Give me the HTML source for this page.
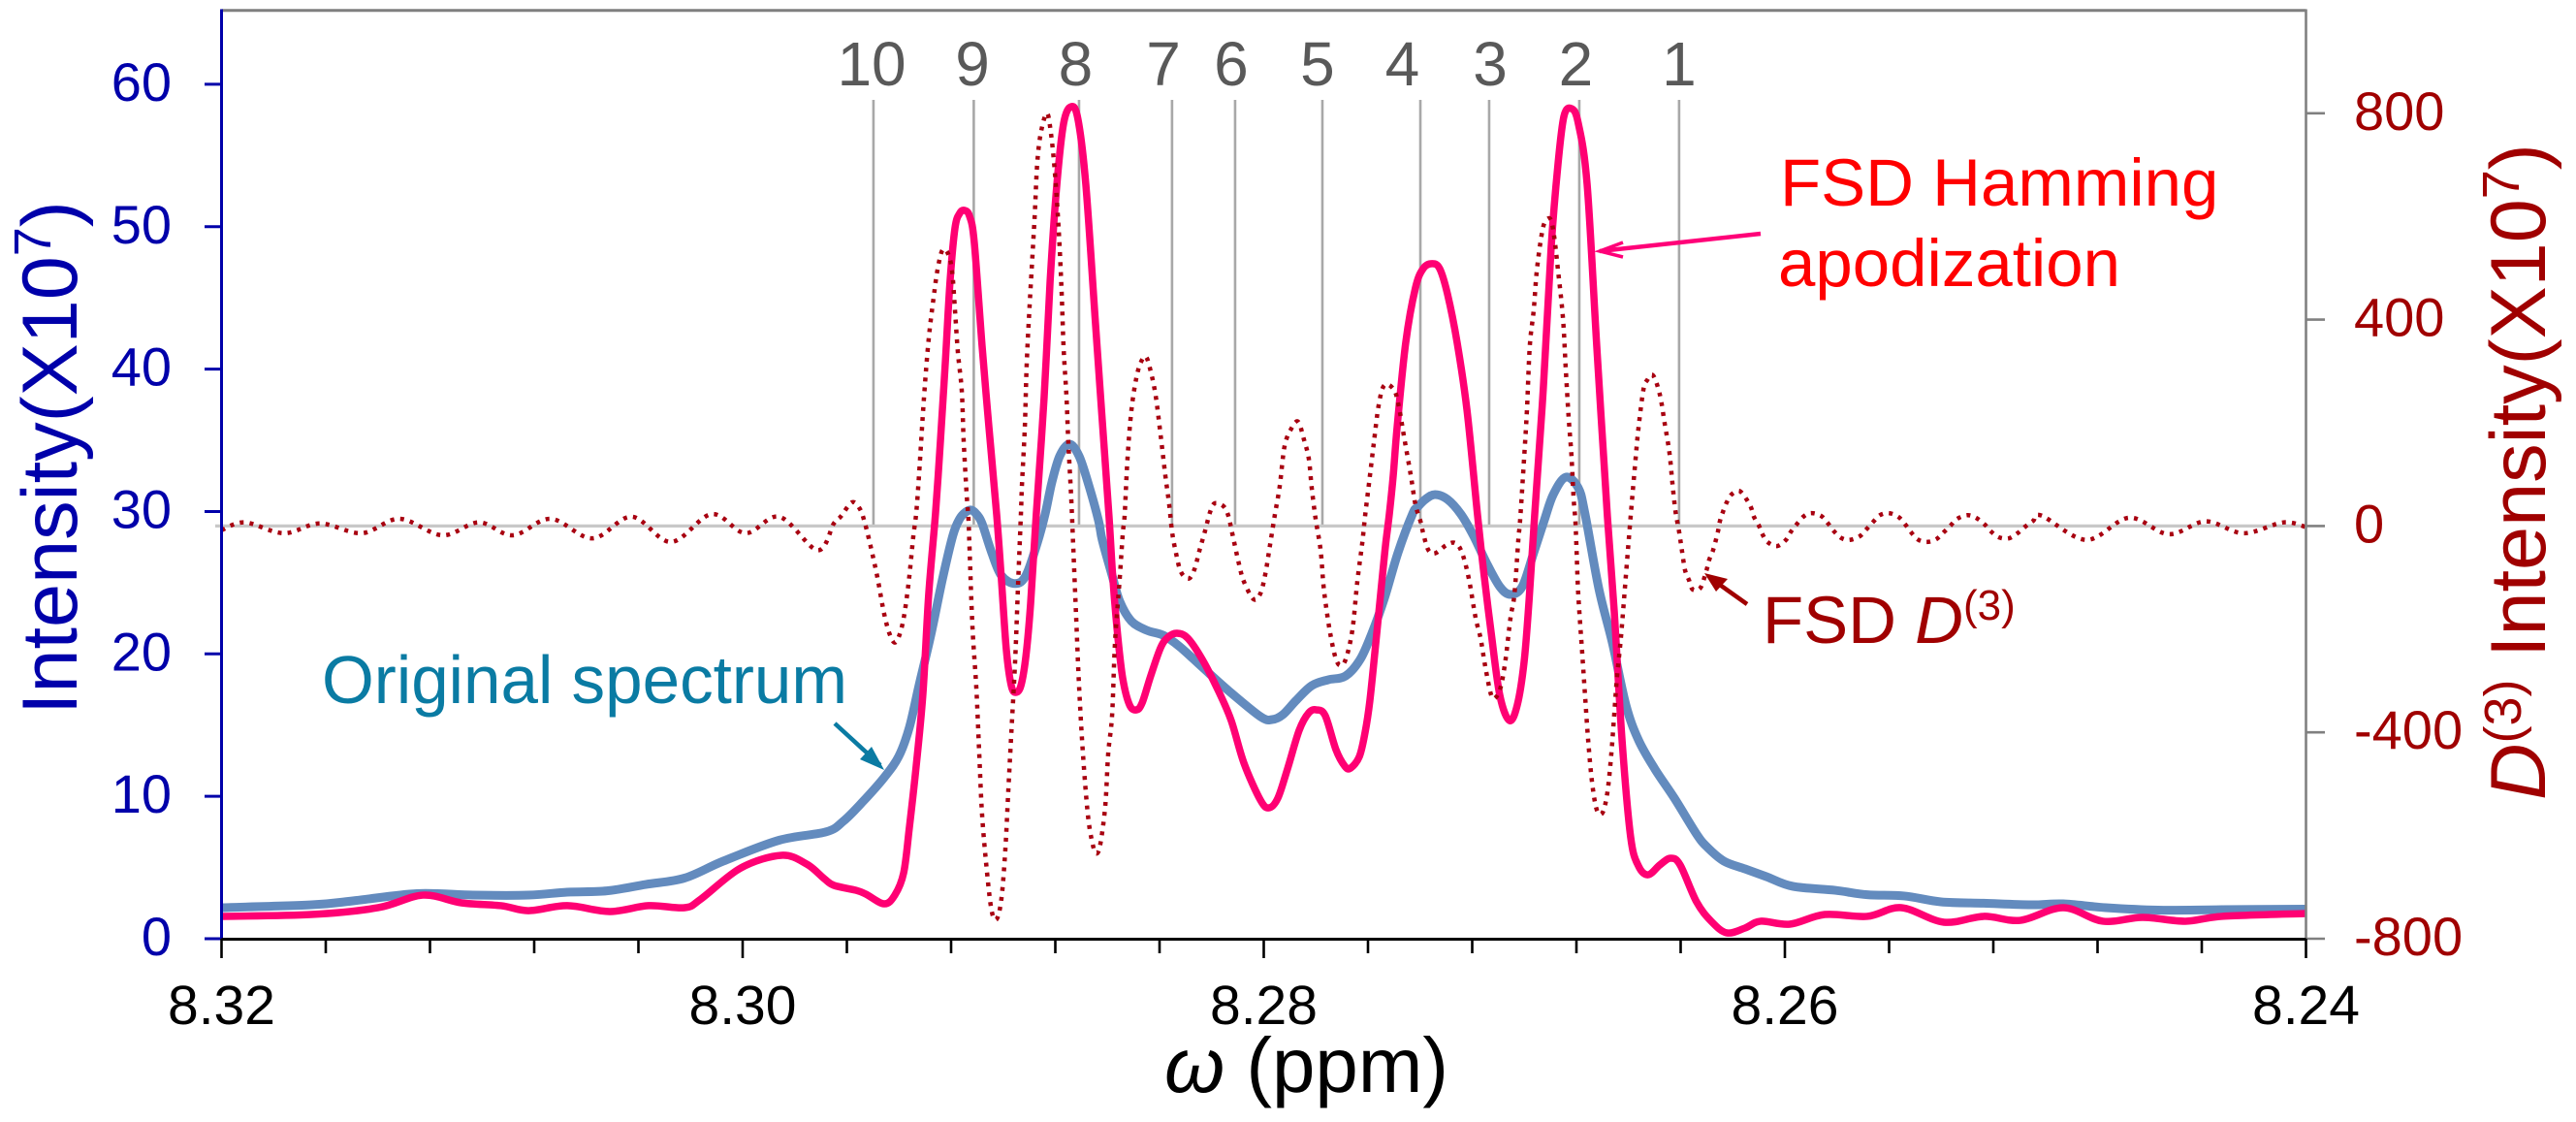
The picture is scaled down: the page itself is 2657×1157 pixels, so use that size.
<!DOCTYPE html>
<html lang="en">
<head>
<meta charset="utf-8">
<title>FSD spectrum chart</title>
<style>
  html, body { margin: 0; padding: 0; background: #fff; }
  svg { display: block; font-family: "Liberation Sans", Arial, sans-serif; }
</style>
</head>
<body>
<svg id="chart" xmlns="http://www.w3.org/2000/svg" width="2657" height="1157" viewBox="0 0 2657 1157">
  <rect x="0" y="0" width="2657" height="1157" fill="#ffffff"/>
  <g id="guides"></g>
  <g id="curves"></g>
  <g id="axes"></g>

  <text transform="translate(79 737) rotate(-90)" font-size="81" fill="#0000AA">Intensity(X10<tspan font-size="54" dy="-27">7</tspan><tspan dy="27">)</tspan></text>
  <text transform="translate(2625 825) rotate(-90)" font-size="81" fill="#A00000"><tspan font-style="italic">D</tspan><tspan font-size="54" dy="-25">(3)</tspan><tspan dy="25"> Intensity(X10</tspan><tspan font-size="54" dy="-27">7</tspan><tspan dy="27">)</tspan></text>
  <text x="1201" y="1126" font-size="80" fill="#000000" textLength="293" lengthAdjust="spacingAndGlyphs"><tspan font-style="italic">ω</tspan> (ppm)</text>

  <text x="1836" y="212" font-size="69" fill="#FF0000">FSD Hamming</text>
  <text x="1834" y="295" font-size="69" fill="#FF0000">apodization</text>
  <g fill="none" stroke="#FF0078" stroke-width="4.5">
    <path d="M1816 241 L1650 259"/>
    <path d="M1674 250 L1650 259 L1674 265" stroke-width="3.5"/>
  </g>

  <text x="332" y="725" font-size="70" fill="#0A7BA3" textLength="542" lengthAdjust="spacingAndGlyphs">Original spectrum</text>
  <g>
    <path d="M861 746 L908 789" fill="none" stroke="#0A7BA3" stroke-width="4.5"/>
    <path d="M912 794 L887 783 L899 770 Z" fill="#0A7BA3"/>
  </g>

  <text x="1818" y="663" font-size="69" fill="#A00000">FSD <tspan font-style="italic">D</tspan><tspan font-size="44" dy="-24">(3)</tspan></text>
  <g>
    <path d="M1802 623 L1764 596" fill="none" stroke="#A00000" stroke-width="4.5"/>
    <path d="M1758 591 L1782 597 L1770 610 Z" fill="#A00000"/>
  </g>
</svg>

<script>
// ---- Axis ranges ----
const xTicks = [8.32, 8.30, 8.28, 8.26, 8.24];
const xMinorTicks = [8.316, 8.312, 8.308, 8.304, 8.296, 8.292, 8.288, 8.284, 8.276, 8.272, 8.268, 8.264, 8.256, 8.252, 8.248, 8.244];
const leftTicks = [0, 10, 20, 30, 40, 50, 60];
const rightTicks = [-800, -400, 0, 400, 800];

// ---- Peak guides ----
const peakLabels = ["10", "9", "8", "7", "6", "5", "4", "3", "2", "1"];
const peakPpm = [8.29498, 8.29113, 8.28709, 8.28352, 8.28110, 8.27775, 8.27399, 8.27135, 8.26789, 8.26406];
const peakLabelPpm = [8.29505, 8.29118, 8.28722, 8.28385, 8.28125, 8.27794, 8.27468, 8.27131, 8.26802, 8.26406];

// ---- Original spectrum ----
const originalPpm = [8.32000,8.31654,8.31485,8.31250,8.31034,8.30822,8.30673,8.30521,8.30372,8.30223,8.30074,8.29859,8.29680,8.29613,8.29539,8.29457,8.29401,8.29360,8.29323,8.29278,8.29233,8.29193,8.29167,8.29144,8.29122,8.29100,8.29081,8.29044,8.29007,8.28954,8.28913,8.28869,8.28839,8.28813,8.28783,8.28746,8.28709,8.28672,8.28634,8.28620,8.28582,8.28553,8.28508,8.28448,8.28385,8.28322,8.28236,8.28136,8.28013,8.27968,8.27927,8.27875,8.27816,8.27753,8.27686,8.27630,8.27585,8.27537,8.27485,8.27429,8.27410,8.27380,8.27343,8.27295,8.27243,8.27194,8.27146,8.27094,8.27053,8.27008,8.26964,8.26923,8.26889,8.26841,8.26793,8.26767,8.26714,8.26662,8.26610,8.26562,8.26499,8.26424,8.26339,8.26298,8.26234,8.26153,8.26071,8.25970,8.25807,8.25684,8.25542,8.25401,8.25237,8.25055,8.24932,8.24768,8.24567,8.24322,8.24000];
const originalIntensity = [2.18,2.38,2.68,3.17,3.06,3.06,3.27,3.36,3.81,4.26,5.45,6.92,7.5,8.26,9.62,11.32,12.8,14.85,17.8,21.3,25.26,28.33,29.49,29.96,30.10,29.76,29.15,27.1,25.5,24.94,25.5,27.8,29.83,32.07,33.9,34.73,33.9,31.87,29.35,28.0,25.5,23.7,22.3,21.65,21.3,20.5,19.07,17.43,15.6,15.39,15.73,16.75,17.77,18.18,18.45,19.61,21.45,23.9,27.1,29.83,30.3,30.85,31.19,30.85,29.8,28.26,26.42,24.72,24.17,24.72,27.1,29.4,31.19,32.41,31.66,29.83,24.58,20.77,16.41,13.96,11.92,9.87,7.35,6.43,5.45,4.9,4.36,3.68,3.4,3.09,3.0,2.59,2.49,2.38,2.45,2.18,2.01,2.04,2.08];

// ---- FSD Hamming apodization ----
const hammingPpm = [8.32000,8.31656,8.31399,8.31228,8.31079,8.30927,8.30822,8.30673,8.30510,8.30361,8.30223,8.30160,8.30007,8.29851,8.29754,8.29687,8.29650,8.29565,8.29527,8.29457,8.29416,8.29382,8.29360,8.29334,8.29308,8.29286,8.29260,8.29241,8.29222,8.29204,8.29185,8.29167,8.29148,8.29129,8.29111,8.29081,8.29055,8.29025,8.29007,8.28988,8.28969,8.28951,8.28932,8.28913,8.28895,8.28873,8.28843,8.28820,8.28794,8.28768,8.28739,8.28713,8.28683,8.28646,8.28620,8.28594,8.28579,8.28560,8.28541,8.28515,8.28489,8.28467,8.28434,8.28396,8.28367,8.28333,8.28292,8.28236,8.28173,8.28125,8.28076,8.28013,8.27980,8.27946,8.27909,8.27864,8.27827,8.27797,8.27764,8.27723,8.27689,8.27667,8.27633,8.27611,8.27593,8.27570,8.27548,8.27533,8.27518,8.27503,8.27488,8.27455,8.27418,8.27388,8.27354,8.27325,8.27295,8.27258,8.27220,8.27180,8.27157,8.27127,8.27094,8.27057,8.27027,8.27001,8.26982,8.26960,8.26927,8.26897,8.26871,8.26848,8.26819,8.26793,8.26759,8.26722,8.26681,8.26655,8.26625,8.26592,8.26562,8.26525,8.26480,8.26439,8.26402,8.26339,8.26283,8.26223,8.26153,8.26093,8.25981,8.25847,8.25684,8.25553,8.25390,8.25237,8.25096,8.24932,8.24780,8.24627,8.24463,8.24322,8.24000];
const hammingIntensity = [1.57,1.70,2.18,3.06,2.52,2.32,1.97,2.32,1.91,2.32,2.18,2.79,4.97,5.86,5.24,4.22,3.75,3.40,3.13,2.45,3.06,4.63,7.83,12.12,17.23,24.17,29.83,34.93,40.52,46.17,49.91,50.94,51.14,50.73,48.89,41.61,35.96,29.76,25.26,20.29,17.77,17.30,17.77,19.82,23.49,29.83,38.00,46.17,52.98,57.27,58.43,57.54,52.98,43.24,36.43,29.69,25.26,21.18,18.25,16.41,16.07,16.55,18.45,20.43,21.18,21.45,21.11,19.61,17.36,15.32,12.33,9.74,9.19,9.87,11.92,14.64,15.87,16.07,15.66,13.28,12.12,11.98,12.80,14.50,16.68,20.77,24.86,27.58,29.83,32.55,35.96,41.88,45.69,47.06,47.40,47.06,45.28,41.88,37.11,29.83,25.94,21.45,17.09,15.32,16.41,19.41,23.70,29.83,38.68,48.55,54.34,57.75,58.29,57.27,52.98,41.61,29.62,23.02,13.96,7.15,5.11,4.49,5.18,5.65,5.18,2.59,1.23,0.41,0.75,1.23,1.02,1.70,1.57,2.18,1.16,1.57,1.29,2.18,1.23,1.50,1.23,1.57,1.77];

// ---- FSD D(3) ----
const d3Ppm = [8.32000,8.31910,8.31761,8.31622,8.31462,8.31317,8.31153,8.31012,8.30882,8.30737,8.30577,8.30426,8.30275,8.30119,8.29989,8.29859,8.29713,8.29650,8.29624,8.29580,8.29550,8.29531,8.29509,8.29483,8.29457,8.29434,8.29412,8.29386,8.29364,8.29345,8.29334,8.29323,8.29304,8.29286,8.29267,8.29252,8.29233,8.29211,8.29196,8.29185,8.29174,8.29159,8.29152,8.29141,8.29133,8.29129,8.29118,8.29103,8.29092,8.29081,8.29062,8.29044,8.29025,8.29007,8.28992,8.28980,8.28969,8.28954,8.28943,8.28932,8.28928,8.28917,8.28910,8.28899,8.28880,8.28869,8.28854,8.28832,8.28817,8.28802,8.28787,8.28776,8.28768,8.28757,8.28750,8.28739,8.28731,8.28720,8.28709,8.28694,8.28675,8.28657,8.28642,8.28627,8.28608,8.28597,8.28582,8.28571,8.28553,8.28541,8.28534,8.28523,8.28508,8.28489,8.28471,8.28452,8.28434,8.28415,8.28396,8.28378,8.28363,8.28352,8.28337,8.28318,8.28288,8.28266,8.28247,8.28225,8.28206,8.28188,8.28154,8.28136,8.28121,8.28095,8.28076,8.28039,8.28013,8.27994,8.27976,8.27957,8.27939,8.27920,8.27894,8.27868,8.27846,8.27827,8.27816,8.27801,8.27782,8.27771,8.27760,8.27745,8.27726,8.27708,8.27686,8.27660,8.27641,8.27622,8.27611,8.27596,8.27578,8.27559,8.27537,8.27500,8.27481,8.27462,8.27436,8.27418,8.27399,8.27388,8.27369,8.27343,8.27299,8.27265,8.27239,8.27213,8.27187,8.27168,8.27150,8.27127,8.27109,8.27090,8.27072,8.27053,8.27038,8.27023,8.27016,8.27001,8.26990,8.26979,8.26964,8.26953,8.26938,8.26923,8.26900,8.26886,8.26871,8.26852,8.26841,8.26830,8.26819,8.26811,8.26804,8.26800,8.26793,8.26778,8.26767,8.26755,8.26740,8.26722,8.26700,8.26681,8.26666,8.26655,8.26644,8.26629,8.26610,8.26592,8.26573,8.26562,8.26543,8.26528,8.26506,8.26480,8.26461,8.26443,8.26432,8.26420,8.26406,8.26395,8.26383,8.26368,8.26354,8.26324,8.26301,8.26290,8.26275,8.26257,8.26249,8.26238,8.26223,8.26205,8.26175,8.26149,8.26130,8.26119,8.26100,8.26086,8.26067,8.26030,8.25996,8.25978,8.25955,8.25929,8.25900,8.25862,8.25836,8.25810,8.25781,8.25751,8.25713,8.25688,8.25661,8.25635,8.25602,8.25565,8.25538,8.25516,8.25490,8.25457,8.25420,8.25390,8.25364,8.25338,8.25300,8.25267,8.25233,8.25208,8.25178,8.25141,8.25107,8.25077,8.25047,8.25014,8.24843,8.24679,8.24527,8.24385,8.24240,8.24087,8.24000];
const d3Intensity = [-8,7,-14,5,-14,14,-18,7,-18,14,-24,18,-31,23,-14,18,-47,5,18,46,33,6,-39,-99,-170,-212,-225,-189,-114,-20,24,99,249,362,443,497,535,527,493,418,337,262,168,67,10,-46,-196,-315,-441,-560,-672,-747,-762,-723,-629,-509,-403,-259,-114,24,80,192,311,424,593,706,766,800,762,687,574,456,343,249,161,55,-42,-177,-309,-441,-560,-616,-635,-616,-541,-441,-366,-227,-103,-14,20,130,224,287,318,328,300,253,177,99,42,-11,-52,-89,-102,-84,-48,-9,27,44,38,20,-14,-74,-108,-142,-131,-93,-37,23,76,155,189,202,168,130,74,14,-46,-114,-159,-208,-253,-270,-259,-202,-108,-33,20,83,159,234,273,264,230,174,99,42,10,-14,-46,-53,-37,-33,-52,-102,-178,-217,-272,-328,-332,-311,-259,-178,-133,-27,12,130,224,349,418,490,550,587,595,563,497,405,305,211,136,55,10,-39,-132,-245,-328,-415,-497,-550,-556,-516,-441,-366,-291,-215,-95,18,130,189,264,283,292,255,198,142,85,29,-11,-48,-86,-105,-123,-120,-86,-65,-46,-11,10,27,46,61,68,53,36,18,1,-16,-31,-39,-27,-12,3,18,25,20,6,-11,-24,-27,-20,-7,8,21,25,18,3,-12,-26,-31,-26,-12,1,14,21,16,3,-11,-22,-24,-14,-1,10,20,-27,16,-16,9,-14,7,-2];

// ---- Axis functions ----
function xScale(ppm) { return 228.5 + (8.32 - ppm) / 0.08 * 2150; }
function yLeft(value) { return 968 - value * 14.685; }
function yRight(value) { return 542.4 - value * 0.532; }

const SVGNS = "http://www.w3.org/2000/svg";
function el(parent, tag, props, text) {
  const node = document.createElementNS(SVGNS, tag);
  for (const key in props) node.setAttribute(key, props[key]);
  if (text !== undefined) node.textContent = text;
  parent.appendChild(node);
  return node;
}
function splinePath(xs, ys, fx, fy) {
  const pts = xs.map(function (x, i) { return [fx(x), fy(ys[i])]; });
  let d = "M" + pts[0][0].toFixed(2) + " " + pts[0][1].toFixed(2);
  for (let i = 0; i < pts.length - 1; i++) {
    const p0 = pts[Math.max(i - 1, 0)], p1 = pts[i], p2 = pts[i + 1], p3 = pts[Math.min(i + 2, pts.length - 1)];
    const c1x = p1[0] + (p2[0] - p0[0]) / 6, c1y = p1[1] + (p2[1] - p0[1]) / 6;
    const c2x = p2[0] - (p3[0] - p1[0]) / 6, c2y = p2[1] - (p3[1] - p1[1]) / 6;
    d += "C" + c1x.toFixed(2) + " " + c1y.toFixed(2) + " " + c2x.toFixed(2) + " " + c2y.toFixed(2) + " " + p2[0].toFixed(2) + " " + p2[1].toFixed(2);
  }
  return d;
}

const guides = document.getElementById("guides");
const curves = document.getElementById("curves");
const axes = document.getElementById("axes");

// Peak guide lines and labels
peakPpm.forEach(function (ppm, i) {
  const line = el(guides, "line", { x1: xScale(ppm), x2: xScale(ppm), y1: 103, y2: yRight(0), stroke: "#A8A8A8", "stroke-width": 2.6 });
  
  
  const label = el(guides, "text", { x: xScale(peakLabelPpm[i]), y: 88, "font-size": 64, fill: "#595959", "text-anchor": "middle" }, peakLabels[i]);
  
  
});
const zeroLine = el(guides, "line", { x1: 222, x2: xScale(8.24), y1: yRight(0), y2: yRight(0), stroke: "#C8C8C8", "stroke-width": 3.2 });



// Series
const originalLine = el(curves, "path", { d: splinePath(originalPpm, originalIntensity, xScale, yLeft), fill: "none", stroke: "#638BBE", "stroke-width": 9, "stroke-linejoin": "round" });


const hammingLine = el(curves, "path", { d: splinePath(hammingPpm, hammingIntensity, xScale, yLeft), fill: "none", stroke: "#FF0073", "stroke-width": 7.5, "stroke-linejoin": "round" });


const d3Line = el(curves, "path", { d: splinePath(d3Ppm, d3Intensity, xScale, yRight), fill: "none", stroke: "#A80010", "stroke-width": 4.5, "stroke-dasharray": "4 6.2" });



// Frame
const topBorder = el(axes, "line", { x1: 228.5, x2: 2378.5, y1: 10.7, y2: 10.7, stroke: "#7F7F7F", "stroke-width": 3 });


const rightAxis = el(axes, "line", { x1: 2378.5, x2: 2378.5, y1: 9.5, y2: 968, stroke: "#808080", "stroke-width": 2.6 });


const leftAxis = el(axes, "line", { x1: 228.5, x2: 228.5, y1: 9.5, y2: 968, stroke: "#0000AA", "stroke-width": 3 });


const bottomAxis = el(axes, "line", { x1: 228.5, x2: 2378.5, y1: 968.5, y2: 968.5, stroke: "#000000", "stroke-width": 3 });



// Left ticks
leftTicks.forEach(function (value) {
  const tick = el(axes, "line", { x1: 211, x2: 228.5, y1: yLeft(value), y2: yLeft(value), stroke: "#0000AA", "stroke-width": 3 });
  
  
  const label = el(axes, "text", { x: 177, y: yLeft(value) + 17, "font-size": 56, fill: "#0000AA", "text-anchor": "end" }, String(value));
  
  
});

// Right ticks
rightTicks.forEach(function (value) {
  const tick = el(axes, "line", { x1: 2378.5, x2: 2398, y1: yRight(value), y2: yRight(value), stroke: "#808080", "stroke-width": 2.6 });
  
  
  const label = el(axes, "text", { x: 2428, y: yRight(value) + 17, "font-size": 56, fill: "#A00000" }, String(value));
  
  
});

// Bottom ticks
xTicks.forEach(function (ppm) {
  const tick = el(axes, "line", { x1: xScale(ppm), x2: xScale(ppm), y1: 968, y2: 988, stroke: "#000000", "stroke-width": 2.6 });
  
  
  const label = el(axes, "text", { x: xScale(ppm), y: 1056, "font-size": 57, fill: "#000000", "text-anchor": "middle" }, ppm.toFixed(2));
  
  
});
xMinorTicks.forEach(function (ppm) {
  const tick = el(axes, "line", { x1: xScale(ppm), x2: xScale(ppm), y1: 968, y2: 983, stroke: "#000000", "stroke-width": 2.6 });
  
  
});
</script>
</body>
</html>
